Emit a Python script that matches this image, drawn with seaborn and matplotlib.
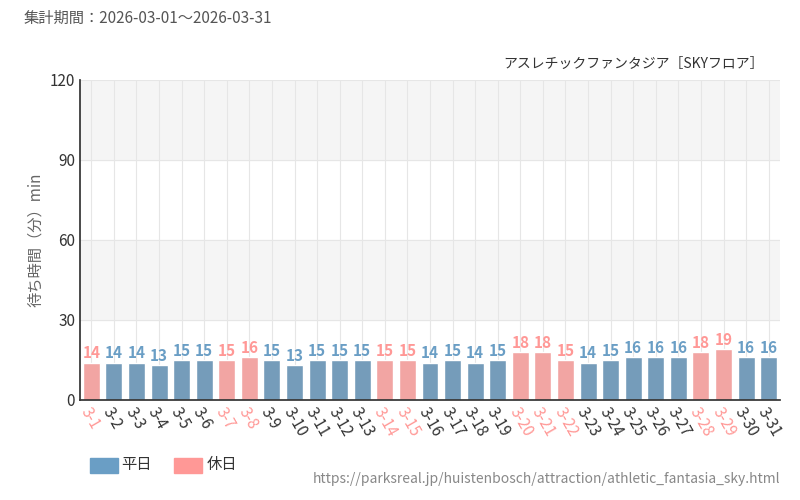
import matplotlib
matplotlib.use("Agg")
import matplotlib.pyplot as plt
import seaborn as sns
import pandas as pd

labels = [f"3-{d}" for d in range(1, 32)]
values = [14,14,14,13,15,15,15,16,15,13,15,15,15,15,15,14,15,14,15,18,18,15,14,15,16,16,16,18,19,16,16]
holidays = [1,7,8,14,15,20,21,22,28,29]
kind = ["休日" if d in holidays else "平日" for d in range(1, 32)]

sns.set_theme(style="white")
plt.rcParams['font.family'] = ['Noto Sans CJK JP', 'DejaVu Sans']

BLUE = "#6a9ec5"
PINK = "#ff9896"
df = pd.DataFrame({"day": labels, "val": values, "kind": kind})

fig = plt.figure(figsize=(8, 5), dpi=100)
ax = fig.add_axes([0.10, 0.20, 0.875, 0.64])
ax.axhspan(30, 60, color="#f5f5f5", zorder=0)
ax.axhspan(90, 120, color="#f5f5f5", zorder=0)
sns.barplot(data=df, x="day", y="val", hue="kind", palette={"平日": BLUE, "休日": PINK},
            dodge=False, width=0.75, ax=ax, zorder=2, legend=False)
ax.set_ylim(0, 120)
ax.set_xlim(-0.5, 30.5)
ax.set_yticks([0, 30, 60, 90, 120])
ax.set_yticklabels(["0", "30", "60", "90", "120"], fontsize=11, color="#333")
for i in range(31):
    ax.axvline(i, color="#e6e6e6", lw=0.8, zorder=1)
for y in [30, 60, 90, 120]:
    ax.axhline(y, color="#e6e6e6", lw=0.8, zorder=1)
for i, (v, k) in enumerate(zip(values, kind)):
    c = PINK if k == "休日" else BLUE
    ax.text(i, v + 0.5, str(v), ha="center", va="bottom", fontsize=11, color=c, fontweight="bold")
ax.set_xticks(range(31))
ax.set_xticklabels(labels, rotation=-60, ha="left", rotation_mode="anchor", fontsize=11)
for t, k in zip(ax.get_xticklabels(), kind):
    t.set_color(PINK if k == "休日" else "#333")
ax.set_xlabel("")
ax.set_ylabel("待ち時間（分）min", fontsize=11, color="#666")
for s in ["top", "right"]:
    ax.spines[s].set_visible(False)
ax.spines["left"].set_color("#333")
ax.spines["bottom"].set_color("#333")
ax.tick_params(axis="both", length=0)

fig.text(0.03, 0.955, "集計期間：2026-03-01～2026-03-31", fontsize=11, color="#555")
fig.text(0.955, 0.865, "アスレチックファンタジア［SKYフロア］", fontsize=10, color="#333", ha="right")
fig.patches.append(plt.Rectangle((0.112, 0.055), 0.035, 0.03, color=BLUE, transform=fig.transFigure))
fig.text(0.152, 0.07, "平日", fontsize=11, va="center", color="#333")
fig.patches.append(plt.Rectangle((0.218, 0.055), 0.035, 0.03, color=PINK, transform=fig.transFigure))
fig.text(0.258, 0.07, "休日", fontsize=11, va="center", color="#333")
fig.text(0.975, 0.035, "https://parksreal.jp/huistenbosch/attraction/athletic_fantasia_sky.html",
         fontsize=10, color="#888", ha="right")
fig.savefig("out.png")
